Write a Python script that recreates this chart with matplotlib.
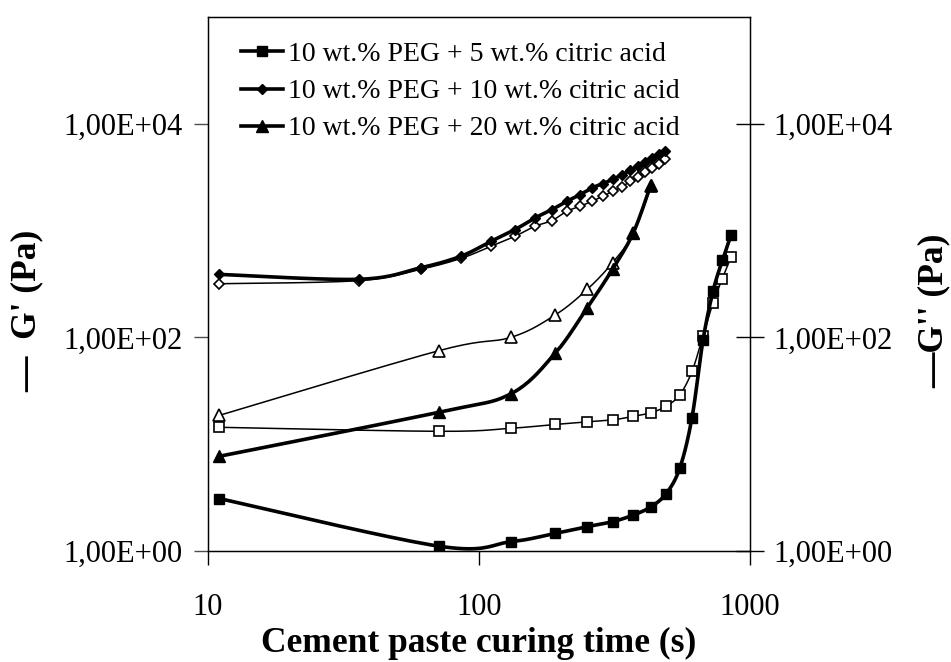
import numpy as np
import matplotlib
matplotlib.use('Agg')
import matplotlib.pyplot as plt
from matplotlib.lines import Line2D
from matplotlib.ticker import FixedLocator, FuncFormatter, NullLocator

plt.rcParams['font.family'] = ['Liberation Serif', 'DejaVu Serif']

# curing time (s)
t_05 = [11, 71, 131, 191, 251, 311, 371, 431, 491, 551, 611, 671, 731, 791, 851]
t_10 = [11, 36, 61, 86, 111, 136, 161, 186, 211, 236, 261, 286, 311, 336, 361,
        386, 411, 436, 461, 486]
t_20 = [11, 71, 131, 191, 251, 311, 371, 431]

# 10 wt.% PEG + 5 wt.% citric acid
g1_05 = [3.1, 1.11, 1.22, 1.46, 1.69, 1.88, 2.17, 2.59, 3.45, 5.98, 17.7, 94,
         272, 526, 900]
g2_05 = [14.4, 13.2, 14.1, 15.3, 16.2, 16.9, 18.2, 19.7, 22.7, 29.0, 48, 103,
         212, 355, 565]

# 10 wt.% PEG + 10 wt.% citric acid
g1_10 = [389, 350, 449, 577, 796, 1024, 1314, 1574, 1880, 2173, 2504, 2750,
         3015, 3324, 3656, 4030, 4394, 4786, 5217, 5623]
g2_10 = [318, 340, 435, 550, 715, 887, 1099, 1242, 1517, 1689, 1880, 2094,
         2332, 2557, 2890, 3184, 3508, 3820, 4205, 4634]

# 10 wt.% PEG + 20 wt.% citric acid
g1_20 = [7.7, 19.9, 29.6, 71, 190, 434, 952, 2692]
g2_20 = [18.6, 75, 100, 162, 282, 500, 940, 2600]

labels = ['10 wt.% PEG + 5 wt.% citric acid',
          '10 wt.% PEG + 10 wt.% citric acid',
          '10 wt.% PEG + 20 wt.% citric acid']


def smooth(x, y, n=20):
    # Catmull-Rom curve through the points in log-log space
    lx = np.log10(np.asarray(x, float))
    ly = np.log10(np.asarray(y, float))
    px = np.concatenate([[lx[0]], lx, [lx[-1]]])
    py = np.concatenate([[ly[0]], ly, [ly[-1]]])
    ox, oy = [], []
    s = np.linspace(0, 1, n, endpoint=False)
    for i in range(1, len(px) - 2):
        for p, o in ((px, ox), (py, oy)):
            p0, p1, p2, p3 = p[i - 1], p[i], p[i + 1], p[i + 2]
            c1 = p1 + (p2 - p0) / 6.0
            c2 = p2 - (p3 - p1) / 6.0
            o.extend((1 - s) ** 3 * p1 + 3 * (1 - s) ** 2 * s * c1
                     + 3 * (1 - s) * s ** 2 * c2 + s ** 3 * p2)
    ox.append(lx[-1])
    oy.append(ly[-1])
    return 10 ** np.array(ox), 10 ** np.array(oy)


fig = plt.figure(figsize=(9.51, 6.62), dpi=100)
ax = fig.add_axes([0.2187, 0.1677, 0.5699, 0.8066])

lw_g1 = 2.6
lw_g2 = 1.1

series = [
    (t_05, g1_05, g2_05, 's', 7.5, 7.0),
    (t_10, g1_10, g2_10, 'D', 5.5, 5.0),
    (t_20, g1_20, g2_20, '^', 9.0, 8.5),
]

for t, g1, g2, mk, ms1, ms2 in series:
    sx, sy = smooth(t, g2)
    ax.plot(sx, sy, color='black', lw=lw_g2, zorder=2)
    ax.plot(t, g2, ls='none', marker=mk, ms=ms2, mfc='white', mec='black',
            mew=1.2, zorder=3)
    sx, sy = smooth(t, g1)
    ax.plot(sx, sy, color='black', lw=lw_g1, zorder=4)
    ax.plot(t, g1, ls='none', marker=mk, ms=ms1, mfc='black', mec='black',
            zorder=5)

ax.set_xscale('log')
ax.set_yscale('log')
ax.set_xlim(10, 1000)
ax.set_ylim(1, 1e5)


def sci_comma(v, pos):
    return ('%.2E' % v).replace('.', ',')


ax.xaxis.set_major_locator(FixedLocator([10, 100, 1000]))
ax.xaxis.set_minor_locator(NullLocator())
ax.xaxis.set_major_formatter(FuncFormatter(lambda v, p: '%d' % v))
ax.yaxis.set_major_locator(FixedLocator([1, 100, 1e4]))
ax.yaxis.set_minor_locator(NullLocator())
ax.yaxis.set_major_formatter(FuncFormatter(sci_comma))
ax.tick_params(axis='y', direction='out', length=10, width=1, labelsize=22,
               pad=8.5, color='0.3')
ax.tick_params(axis='x', direction='out', length=10, width=1, labelsize=22,
               pad=20)
for sp in ax.spines.values():
    sp.set_linewidth(1)

# secondary axis for G''
ax2 = ax.twinx()
ax2.set_yscale('log')
ax2.set_ylim(1, 1e5)
ax2.yaxis.set_major_locator(FixedLocator([1, 100, 1e4]))
ax2.yaxis.set_minor_locator(NullLocator())
ax2.yaxis.set_major_formatter(FuncFormatter(sci_comma))
ax2.tick_params(axis='y', direction='inout', length=20, width=1, labelsize=22,
                pad=7)

ax.set_xlabel('Cement paste curing time (s)', fontsize=25.5,
              fontweight='bold', labelpad=4)
fig.text(0.028, 0.53, '\u2014  G\' (Pa)', rotation=90, fontsize=25.5,
         fontweight='bold', ha='center', va='center')
fig.text(0.982, 0.53, '\u2014G\'\' (Pa)', rotation=90, fontsize=25.5,
         fontweight='bold', ha='center', va='center')

handles = [
    Line2D([], [], color='black', lw=lw_g1, marker='s', ms=7.5),
    Line2D([], [], color='black', lw=lw_g1, marker='D', ms=5.0),
    Line2D([], [], color='black', lw=lw_g1, marker='^', ms=9.0),
]
ax.legend(handles, labels, loc='upper left', bbox_to_anchor=(0.03, 0.985),
          frameon=False, fontsize=20, handlelength=1.5, handletextpad=0.2,
          labelspacing=0.42, borderaxespad=0.2)

fig.savefig('out.png', dpi=100)
